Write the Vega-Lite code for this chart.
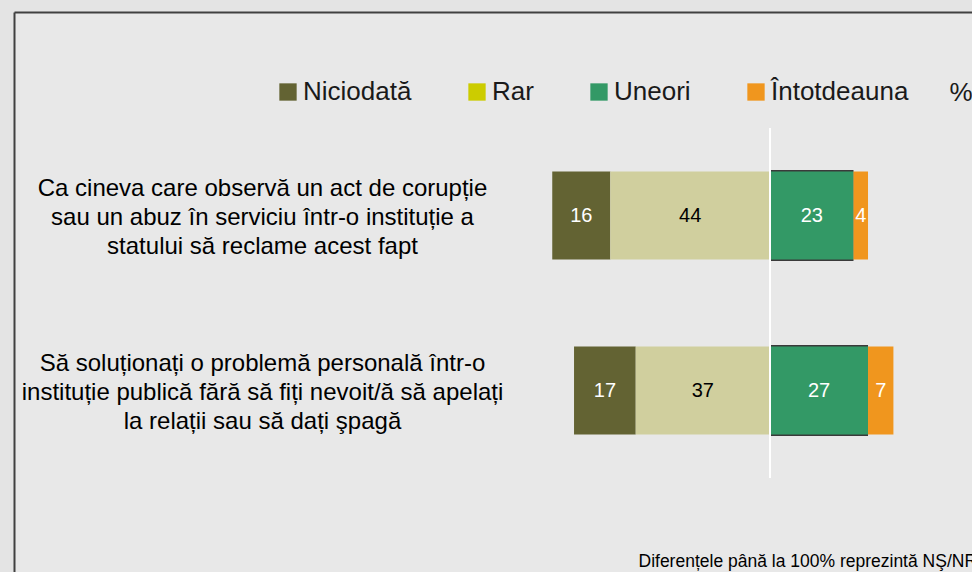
{
  "$schema": "https://vega.github.io/schema/vega-lite/v6.json",
  "width": 958,
  "height": 560,
  "autosize": "none",
  "padding": {"left": 14, "top": 12, "right": 0, "bottom": 0},
  "background": "#e4e4e4",
  "config": {
    "font": "Liberation Sans",
    "view": {"stroke": null, "fill": "#e8e8e8"},
    "axisX": {
      "labels": false, "ticks": false, "grid": false, "domain": true,
      "domainColor": "#404040", "domainWidth": 2,
      "titleX": 935, "titleY": 80, "titleAlign": "left", "titleBaseline": "middle",
      "titleAngle": 0, "titleFontSize": 26, "titleFontWeight": "normal", "titleColor": "#1a1a1a"
    },
    "axisY": {
      "ticks": false, "tickSize": 0, "grid": false, "domain": true,
      "domainColor": "#404040", "domainWidth": 2,
      "labelAlign": "center", "labelBaseline": "middle", "labelPadding": -248, "labelOffset": -27,
      "labelFontSize": 24, "labelLineHeight": 29, "labelLimit": 1000, "labelColor": "#000000",
      "labelOverlap": false,
      "titleX": 624, "titleY": 554, "titleAngle": 0, "titleAlign": "left", "titleBaseline": "alphabetic",
      "titleFontSize": 17.5, "titleFontWeight": "normal", "titleColor": "#000000"
    }
  },
  "data": {
    "values": [
      {"question": "Ca cineva care observă un act de corupție\nsau un abuz în serviciu într-o instituție a\nstatului să reclame acest fapt", "answer": "Niciodată", "value": -16},
      {"question": "Ca cineva care observă un act de corupție\nsau un abuz în serviciu într-o instituție a\nstatului să reclame acest fapt", "answer": "Rar", "value": -44},
      {"question": "Ca cineva care observă un act de corupție\nsau un abuz în serviciu într-o instituție a\nstatului să reclame acest fapt", "answer": "Uneori", "value": 23},
      {"question": "Ca cineva care observă un act de corupție\nsau un abuz în serviciu într-o instituție a\nstatului să reclame acest fapt", "answer": "Întotdeauna", "value": 4},
      {"question": "Să soluționați o problemă personală într-o\ninstituție publică fără să fiți nevoit/ă să apelați\nla relații sau să dați şpagă", "answer": "Niciodată", "value": -17},
      {"question": "Să soluționați o problemă personală într-o\ninstituție publică fără să fiți nevoit/ă să apelați\nla relații sau să dați şpagă", "answer": "Rar", "value": -37},
      {"question": "Să soluționați o problemă personală într-o\ninstituție publică fără să fiți nevoit/ă să apelați\nla relații sau să dați şpagă", "answer": "Uneori", "value": 27},
      {"question": "Să soluționați o problemă personală într-o\ninstituție publică fără să fiți nevoit/ă să apelați\nla relații sau să dați şpagă", "answer": "Întotdeauna", "value": 7}
    ]
  },
  "encoding": {
    "y": {
      "field": "question", "type": "nominal", "sort": null,
      "title": "Diferențele până la 100% reprezintă NŞ/NR",
      "scale": {"paddingInner": 0, "paddingOuter": 0.6, "align": 0.5524},
      "axis": {"labelExpr": "split(datum.label, '\\n')"}
    },
    "x": {
      "field": "value", "type": "quantitative", "stack": "zero", "title": "%",
      "scale": {"domain": [-208.3, 55.65], "nice": false, "zero": false},
      "axis": {"orient": "top"}
    }
  },
  "layer": [
    {
      "transform": [{"filter": "datum.value < 0"}],
      "encoding": {
        "order": {"field": "value", "sort": "ascending"},
        "detail": {"field": "answer"}
      },
      "layer": [
        {
          "mark": {"type": "bar", "height": {"band": 0.503}},
          "encoding": {
            "fill": {
              "field": "answer", "type": "nominal",
              "scale": {"domain": ["Niciodată", "Rar", "Uneori", "Întotdeauna"], "range": ["#636333", "#d0cf9e", "#339966", "#f0961e"]},
              "legend": null
            }
          }
        },
        {
          "mark": {"type": "text", "fontSize": 20, "baseline": "middle", "align": "center"},
          "encoding": {
            "x": {"field": "value", "type": "quantitative", "stack": "zero", "bandPosition": 0.5, "title": "%", "axis": {"orient": "top"}},
            "text": {"value": {"expr": "abs(datum.value)"}},
            "color": {"condition": {"test": "datum.answer === 'Rar'", "value": "#000000"}, "value": "#ffffff"}
          }
        }
      ]
    },
    {
      "transform": [{"filter": "datum.value > 0"}],
      "encoding": {
        "order": {"field": "value", "sort": "descending"},
        "detail": {"field": "answer"}
      },
      "layer": [
        {
          "transform": [{"filter": "datum.answer === 'Uneori'"}],
          "mark": {"type": "bar", "height": {"band": 0.52}, "fill": "#3a3a3a"}
        },
        {
          "mark": {"type": "bar", "height": {"band": 0.503}},
          "encoding": {
            "fill": {
              "field": "answer", "type": "nominal",
              "scale": {"domain": ["Niciodată", "Rar", "Uneori", "Întotdeauna"], "range": ["#636333", "#d0cf9e", "#339966", "#f0961e"]},
              "legend": null
            }
          }
        },
        {
          "mark": {"type": "text", "fontSize": 20, "baseline": "middle", "align": "center"},
          "encoding": {
            "x": {"field": "value", "type": "quantitative", "stack": "zero", "bandPosition": 0.5, "title": "%", "axis": {"orient": "top"}},
            "text": {"value": {"expr": "abs(datum.value)"}},
            "color": {"condition": {"test": "datum.answer === 'Rar'", "value": "#000000"}, "value": "#ffffff"}
          }
        }
      ]
    },
    {
      "mark": {"type": "bar", "height": {"band": 1}, "fill": "#ffffff"},
      "encoding": {
        "x": {"datum": -0.23, "type": "quantitative", "title": "%", "axis": {"orient": "top"}},
        "x2": {"datum": 0.23}
      }
    },
    {
      "mark": {"type": "point", "filled": true, "opacity": 0},
      "encoding": {
        "x": {"datum": 0, "type": "quantitative", "title": "%", "axis": {"orient": "top"}},
        "shape": {
          "field": "answer", "type": "nominal",
          "sort": ["Niciodată", "Rar", "Uneori", "Întotdeauna"],
          "scale": {"range": ["square", "square", "square", "square"]},
          "legend": {
            "orient": "none", "legendX": 261, "legendY": 67, "direction": "horizontal", "title": null,
            "symbolType": "square", "symbolSize": 300, "symbolStrokeWidth": 0, "symbolOpacity": 1,
            "labelFontSize": 26, "labelColor": "#1a1a1a", "labelOffset": 2, "labelLimit": 400,
            "columnPadding": 52, "padding": 0,
            "encoding": {"symbols": {"fill": {"value": {"expr": "datum.value === 'Niciodată' ? '#636333' : datum.value === 'Rar' ? '#cccc00' : datum.value === 'Uneori' ? '#339966' : '#f0961e'"}}}}
          }
        }
      }
    }
  ]
}
